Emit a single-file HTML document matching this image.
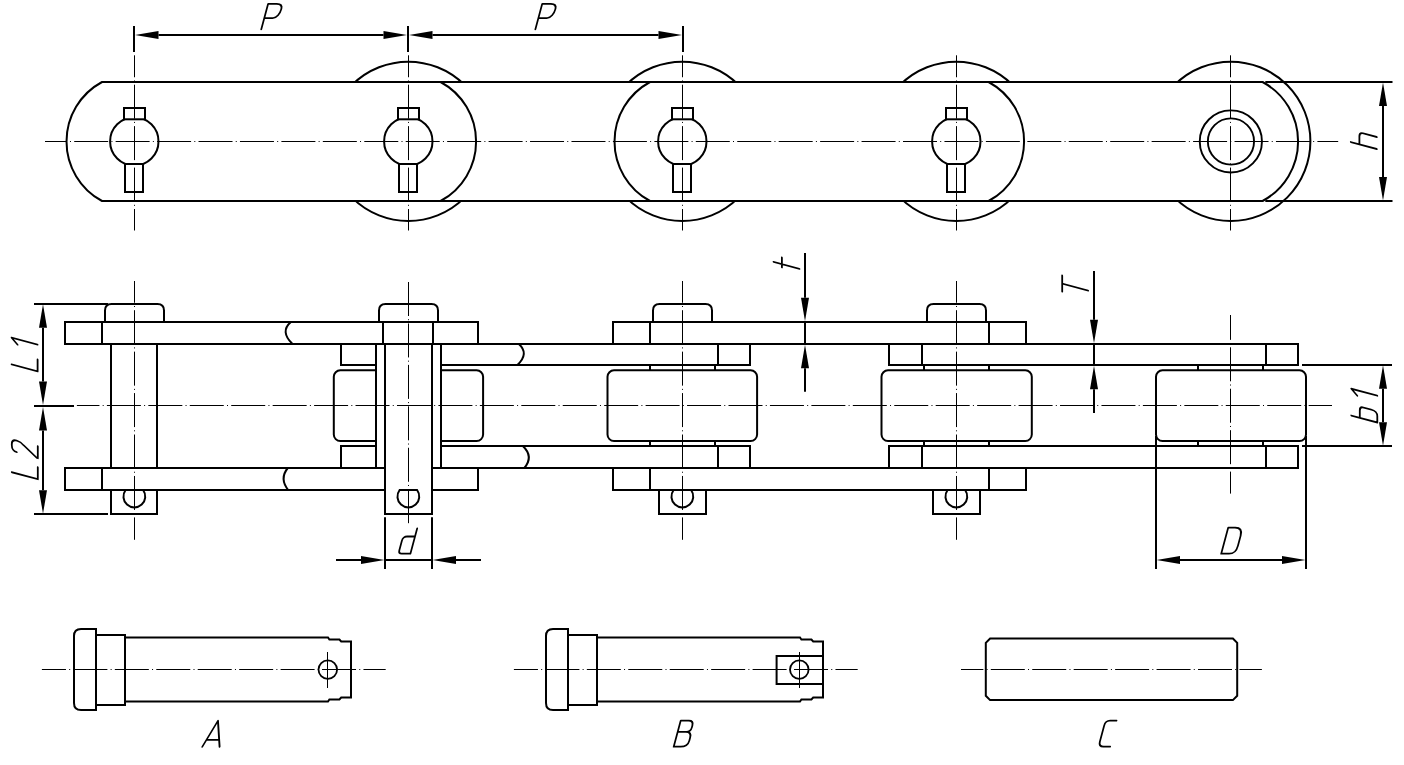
<!DOCTYPE html>
<html><head><meta charset="utf-8"><title>Chain drawing</title>
<style>
html,body{margin:0;padding:0;background:#fff;}
body{width:1404px;height:765px;overflow:hidden;font-family:"Liberation Sans",sans-serif;}
svg{display:block;}
</style></head>
<body>
<svg width="1404" height="765" viewBox="0 0 1404 765" role="img" aria-label="Roller chain drawing with dimensions P, h, t, T, L1, L2, b1, d, D and pin types A, B, C" stroke="#000" stroke-linecap="butt" stroke-linejoin="miter" fill="none">
<rect x="0" y="0" width="1404" height="765" fill="#fff" stroke="none"/>
<circle cx="408.3" cy="141.3" r="79.6" stroke-width="2.0" fill="#fff"/>
<circle cx="682.3" cy="141.3" r="79.6" stroke-width="2.0" fill="#fff"/>
<circle cx="956.3" cy="141.3" r="79.6" stroke-width="2.0" fill="#fff"/>
<circle cx="1230.8" cy="141.3" r="79.6" stroke-width="2.0" fill="#fff"/>
<path d="M376.03,82 L714.57,82 A67.6,67.6 0 0 1 714.57,201 L376.03,201 A67.6,67.6 0 0 1 376.03,82 Z" stroke-width="2.0" fill="#fff"/>
<path d="M924.03,82 L1262.57,82 A67.6,67.6 0 0 1 1262.57,201 L924.03,201 A67.6,67.6 0 0 1 924.03,82 Z" stroke-width="2.0" fill="#fff"/>
<path d="M102.03,82 L440.57,82 A67.6,67.6 0 0 1 440.57,201 L102.03,201 A67.6,67.6 0 0 1 102.03,82 Z" stroke-width="2.0" fill="#fff"/>
<path d="M650.03,82 L988.57,82 A67.6,67.6 0 0 1 988.57,201 L650.03,201 A67.6,67.6 0 0 1 650.03,82 Z" stroke-width="2.0" fill="#fff"/>
<line x1="1265.3" y1="82" x2="1392.5" y2="82" stroke-width="2.0"/>
<line x1="1265.3" y1="201" x2="1392.5" y2="201" stroke-width="2.0"/>
<circle cx="134.3" cy="141.4" r="24.2" stroke-width="2.0" fill="none"/>
<rect x="124" y="108" width="21" height="11.3" stroke-width="2.0" fill="#fff"/>
<rect x="125" y="164" width="18" height="28" stroke-width="2.0" fill="#fff"/>
<circle cx="408.3" cy="141.4" r="24.2" stroke-width="2.0" fill="none"/>
<rect x="398" y="108" width="21" height="11.3" stroke-width="2.0" fill="#fff"/>
<rect x="399" y="164" width="18" height="28" stroke-width="2.0" fill="#fff"/>
<circle cx="682.3" cy="141.4" r="24.2" stroke-width="2.0" fill="none"/>
<rect x="672" y="108" width="21" height="11.3" stroke-width="2.0" fill="#fff"/>
<rect x="673" y="164" width="18" height="28" stroke-width="2.0" fill="#fff"/>
<circle cx="956.3" cy="141.4" r="24.2" stroke-width="2.0" fill="none"/>
<rect x="946" y="108" width="21" height="11.3" stroke-width="2.0" fill="#fff"/>
<rect x="947" y="164" width="18" height="28" stroke-width="2.0" fill="#fff"/>
<circle cx="1230.85" cy="141.45" r="31.1" stroke-width="1.9" fill="none"/>
<circle cx="1230.95" cy="141.5" r="23.1" stroke-width="1.9" fill="none"/>
<line x1="45" y1="141.5" x2="1338.2" y2="141.5" stroke-width="1.0" stroke-dasharray="34.0 3.22 1.0 3.22" stroke-dashoffset="12.24"/>
<line x1="134.5" y1="55.3" x2="134.5" y2="230.5" stroke-width="1.0" stroke-dasharray="34.0 3.22 1.0 3.22" stroke-dashoffset="12.04"/>
<line x1="408.5" y1="55.3" x2="408.5" y2="230.5" stroke-width="1.0" stroke-dasharray="34.0 3.22 1.0 3.22" stroke-dashoffset="12.04"/>
<line x1="682.5" y1="55.3" x2="682.5" y2="230.5" stroke-width="1.0" stroke-dasharray="34.0 3.22 1.0 3.22" stroke-dashoffset="12.04"/>
<line x1="956.5" y1="55.3" x2="956.5" y2="230.5" stroke-width="1.0" stroke-dasharray="34.0 3.22 1.0 3.22" stroke-dashoffset="12.04"/>
<line x1="1230.5" y1="55.3" x2="1230.5" y2="230.5" stroke-width="1.0" stroke-dasharray="34.0 3.22 1.0 3.22" stroke-dashoffset="12.04"/>
<line x1="134" y1="26" x2="134" y2="52" stroke-width="2.0"/>
<line x1="408" y1="26" x2="408" y2="52" stroke-width="2.0"/>
<line x1="683" y1="26" x2="683" y2="52" stroke-width="2.0"/>
<line x1="158.5" y1="35" x2="383.5" y2="35" stroke-width="2.0"/>
<line x1="432.5" y1="35" x2="658.5" y2="35" stroke-width="2.0"/>
<path d="M135,35 L158.5,31 L158.5,39 Z" fill="#000" stroke="none"/>
<path d="M407,35 L383.5,39 L383.5,31 Z" fill="#000" stroke="none"/>
<path d="M409,35 L432.5,31 L432.5,39 Z" fill="#000" stroke="none"/>
<path d="M682,35 L658.5,39 L658.5,31 Z" fill="#000" stroke="none"/>
<g aria-label="P">
<path d="M0,0 V-25.5 H8.5 C12.5,-25.5 14.6,-23.5 14.6,-20.3 C14.6,-15.8 12.3,-11.2 8.5,-11.2 H0.3" transform="translate(261.3,29.3) skewX(-15)" stroke-width="1.8" fill="none" stroke-linecap="round" stroke-linejoin="round"/>
</g>
<g aria-label="P">
<path d="M0,0 V-25.5 H8.5 C12.5,-25.5 14.6,-23.5 14.6,-20.3 C14.6,-15.8 12.3,-11.2 8.5,-11.2 H0.3" transform="translate(535.4,29.3) skewX(-15)" stroke-width="1.8" fill="none" stroke-linecap="round" stroke-linejoin="round"/>
</g>
<line x1="1383" y1="106" x2="1383" y2="177" stroke-width="2.0"/>
<path d="M1383,82.5 L1387,106 L1379,106 Z" fill="#000" stroke="none"/>
<path d="M1383,200.5 L1379,177 L1387,177 Z" fill="#000" stroke="none"/>
<g aria-label="h">
<path d="M0,0 V-26 M0.5,-17.4 H8 Q12,-17.4 12,-13.5 V0" transform="translate(1376.8,149) rotate(-90) skewX(-15)" stroke-width="1.8" fill="none" stroke-linecap="round" stroke-linejoin="round"/>
</g>
<rect x="333.8" y="370.3" width="149.3" height="70.7" rx="6.5" ry="6.5" stroke-width="2.0" fill="#fff"/>
<rect x="607.5" y="370.3" width="149.6" height="70.7" rx="6.5" ry="6.5" stroke-width="2.0" fill="#fff"/>
<rect x="881.5" y="370.3" width="150.3" height="70.7" rx="6.5" ry="6.5" stroke-width="2.0" fill="#fff"/>
<rect x="1156" y="370.3" width="150" height="70.7" rx="6.5" ry="6.5" stroke-width="2.0" fill="#fff"/>
<line x1="650" y1="365" x2="650" y2="370.3" stroke-width="2.0"/>
<line x1="650" y1="441" x2="650" y2="446" stroke-width="2.0"/>
<line x1="715" y1="365" x2="715" y2="370.3" stroke-width="2.0"/>
<line x1="715" y1="441" x2="715" y2="446" stroke-width="2.0"/>
<line x1="924" y1="365" x2="924" y2="370.3" stroke-width="2.0"/>
<line x1="924" y1="441" x2="924" y2="446" stroke-width="2.0"/>
<line x1="989" y1="365" x2="989" y2="370.3" stroke-width="2.0"/>
<line x1="989" y1="441" x2="989" y2="446" stroke-width="2.0"/>
<line x1="1198" y1="365" x2="1198" y2="370.3" stroke-width="2.0"/>
<line x1="1198" y1="441" x2="1198" y2="446" stroke-width="2.0"/>
<line x1="1263" y1="365" x2="1263" y2="370.3" stroke-width="2.0"/>
<line x1="1263" y1="441" x2="1263" y2="446" stroke-width="2.0"/>
<rect x="341" y="344" width="409" height="21" stroke-width="2.0" fill="#fff"/>
<line x1="718" y1="344" x2="718" y2="365" stroke-width="2.0"/>
<rect x="889" y="344" width="409" height="21" stroke-width="2.0" fill="#fff"/>
<line x1="922" y1="344" x2="922" y2="365" stroke-width="2.0"/>
<line x1="1266" y1="344" x2="1266" y2="365" stroke-width="2.0"/>
<rect x="341" y="446" width="409" height="22" stroke-width="2.0" fill="#fff"/>
<line x1="718" y1="446" x2="718" y2="468" stroke-width="2.0"/>
<rect x="889" y="446" width="409" height="22" stroke-width="2.0" fill="#fff"/>
<line x1="922" y1="446" x2="922" y2="468" stroke-width="2.0"/>
<line x1="1266" y1="446" x2="1266" y2="468" stroke-width="2.0"/>
<rect x="65" y="322" width="413" height="22" stroke-width="2.0" fill="#fff"/>
<line x1="102" y1="322" x2="102" y2="344" stroke-width="2.0"/>
<rect x="613" y="322" width="413" height="22" stroke-width="2.0" fill="#fff"/>
<line x1="650" y1="322" x2="650" y2="344" stroke-width="2.0"/>
<line x1="989" y1="322" x2="989" y2="344" stroke-width="2.0"/>
<rect x="65" y="468" width="413" height="22" stroke-width="2.0" fill="#fff"/>
<line x1="102" y1="468" x2="102" y2="490" stroke-width="2.0"/>
<rect x="613" y="468" width="413" height="22" stroke-width="2.0" fill="#fff"/>
<line x1="650" y1="468" x2="650" y2="490" stroke-width="2.0"/>
<line x1="989" y1="468" x2="989" y2="490" stroke-width="2.0"/>
<path d="M290.9,322 Q279.6,331.5 292.5,344" stroke-width="2.0" fill="none"/>
<path d="M287.8,468 Q279.2,478.6 288.2,490" stroke-width="2.0" fill="none"/>
<path d="M518.8,344 Q529.5,353.5 517.4,365" stroke-width="2.0" fill="none"/>
<path d="M522.8,446 Q534,456.5 524.3,468" stroke-width="2.0" fill="none"/>
<path d="M105,322 V310.5 Q105,304 111.5,304 H157.5 Q164,304 164,310.5 V322" stroke-width="2.0" fill="none"/>
<path d="M379,322 V310.5 Q379,304 385.5,304 H431.5 Q438,304 438,310.5 V322" stroke-width="2.0" fill="none"/>
<path d="M653,322 V310.5 Q653,304 659.5,304 H705.5 Q712,304 712,310.5 V322" stroke-width="2.0" fill="none"/>
<path d="M927,322 V310.5 Q927,304 933.5,304 H979.5 Q986,304 986,310.5 V322" stroke-width="2.0" fill="none"/>
<rect x="111" y="344" width="46" height="124" stroke-width="2.0" fill="#fff"/>
<rect x="376" y="344" width="65" height="124" stroke-width="2.0" fill="#fff"/>
<rect x="385" y="344" width="47" height="170" stroke-width="2.0" fill="#fff"/>
<rect x="383" y="322" width="50" height="22" stroke-width="2.0" fill="#fff"/>
<path d="M111,490 V514 H157 V490" stroke-width="2.0" fill="none"/>
<path d="M125.6,490 A10.9,10.9 0 1 0 143.1,490" stroke-width="2.0" fill="none"/>
<path d="M385,490 V514 H432 V490" stroke-width="2.0" fill="none"/>
<path d="M399.6,490 A10.9,10.9 0 1 0 417.1,490 Z" stroke-width="2.0" fill="none"/>
<path d="M659,490 V514 H706 V490" stroke-width="2.0" fill="none"/>
<path d="M673.6,490 A10.9,10.9 0 1 0 691.1,490" stroke-width="2.0" fill="none"/>
<path d="M933,490 V514 H980 V490" stroke-width="2.0" fill="none"/>
<path d="M947.6,490 A10.9,10.9 0 1 0 965.1,490" stroke-width="2.0" fill="none"/>
<line x1="34" y1="406" x2="74" y2="406" stroke-width="2.0"/>
<line x1="76.9" y1="405.5" x2="1332" y2="405.5" stroke-width="1.0" stroke-dasharray="34.0 3.22 1.0 3.22" stroke-dashoffset="11.44"/>
<line x1="134.5" y1="281" x2="134.5" y2="539.8" stroke-width="1.0" stroke-dasharray="34.0 3.22 1.0 3.22" stroke-dashoffset="12.24"/>
<line x1="408.5" y1="281" x2="408.5" y2="524.6" stroke-width="1.0" stroke-dasharray="34.0 3.22 1.0 3.22" stroke-dashoffset="40.44"/>
<line x1="682.5" y1="281" x2="682.5" y2="539.8" stroke-width="1.0" stroke-dasharray="34.0 3.22 1.0 3.22" stroke-dashoffset="12.24"/>
<line x1="956.5" y1="281" x2="956.5" y2="539.8" stroke-width="1.0" stroke-dasharray="34.0 3.22 1.0 3.22" stroke-dashoffset="12.24"/>
<line x1="1230.5" y1="315" x2="1230.5" y2="493.6" stroke-width="1.0" stroke-dasharray="34.0 3.22 1.0 3.22" stroke-dashoffset="9.14"/>
<line x1="34" y1="304" x2="108" y2="304" stroke-width="2.0"/>
<line x1="34" y1="514" x2="108" y2="514" stroke-width="2.0"/>
<line x1="43" y1="327.8" x2="43" y2="381.5" stroke-width="2.0"/>
<line x1="43" y1="430.5" x2="43" y2="490.2" stroke-width="2.0"/>
<path d="M43,304.3 L47,327.8 L39,327.8 Z" fill="#000" stroke="none"/>
<path d="M43,405 L39,381.5 L47,381.5 Z" fill="#000" stroke="none"/>
<path d="M43,407 L47,430.5 L39,430.5 Z" fill="#000" stroke="none"/>
<path d="M43,513.7 L39,490.2 L47,490.2 Z" fill="#000" stroke="none"/>
<g aria-label="L1">
<path d="M0,-26 V0 H12" transform="translate(37.6,371.4) rotate(-90) skewX(-15)" stroke-width="1.8" fill="none" stroke-linecap="round" stroke-linejoin="round"/>
<path d="M-5.4,-20 L0,-26 V0" transform="translate(37.6,344.6) rotate(-90) skewX(-15)" stroke-width="1.8" fill="none" stroke-linecap="round" stroke-linejoin="round"/>
</g>
<g aria-label="L2">
<path d="M0,-26 V0 H12" transform="translate(37.8,479.2) rotate(-90) skewX(-15)" stroke-width="1.8" fill="none" stroke-linecap="round" stroke-linejoin="round"/>
<path d="M0.5,-21 Q0.5,-26 6,-26 H7 Q12,-26 12,-21 Q12,-17 9,-14 L0,-1 V0 H12" transform="translate(37.8,458.2) rotate(-90) skewX(-15)" stroke-width="1.8" fill="none" stroke-linecap="round" stroke-linejoin="round"/>
</g>
<line x1="805" y1="253.1" x2="805" y2="297.8" stroke-width="2.0"/>
<line x1="805" y1="322" x2="805" y2="344" stroke-width="2.0"/>
<line x1="805" y1="368.2" x2="805" y2="391.7" stroke-width="2.0"/>
<path d="M805,321.3 L801,297.8 L809,297.8 Z" fill="#000" stroke="none"/>
<path d="M805,344.7 L809,368.2 L801,368.2 Z" fill="#000" stroke="none"/>
<g aria-label="t">
<path d="M0,0 V-26 M-3.3,-17.6 H6.7" transform="translate(799.5,268.8) rotate(-90) skewX(-15)" stroke-width="1.8" fill="none" stroke-linecap="round" stroke-linejoin="round"/>
</g>
<line x1="1094" y1="271" x2="1094" y2="319.8" stroke-width="2.0"/>
<line x1="1094" y1="344" x2="1094" y2="365" stroke-width="2.0"/>
<line x1="1094" y1="389.2" x2="1094" y2="413" stroke-width="2.0"/>
<path d="M1094,343.3 L1090,319.8 L1098,319.8 Z" fill="#000" stroke="none"/>
<path d="M1094,365.7 L1098,389.2 L1090,389.2 Z" fill="#000" stroke="none"/>
<g aria-label="T">
<path d="M0,0 V-26 M-8,-26 H8.2" transform="translate(1088.2,290.6) rotate(-90) skewX(-15)" stroke-width="1.8" fill="none" stroke-linecap="round" stroke-linejoin="round"/>
</g>
<line x1="1302" y1="365" x2="1392" y2="365" stroke-width="2.0"/>
<line x1="1302" y1="446" x2="1392" y2="446" stroke-width="2.0"/>
<line x1="1383" y1="388.8" x2="1383" y2="422.2" stroke-width="2.0"/>
<path d="M1383,365.3 L1387,388.8 L1379,388.8 Z" fill="#000" stroke="none"/>
<path d="M1383,445.7 L1379,422.2 L1387,422.2 Z" fill="#000" stroke="none"/>
<g aria-label="b1">
<path d="M0,0 V-26 M0.5,-17.5 H7.5 Q11.3,-17.5 11.3,-13.7 V-6 Q11.3,0 6.5,0 H0" transform="translate(1377.3,422.5) rotate(-90) skewX(-15)" stroke-width="1.8" fill="none" stroke-linecap="round" stroke-linejoin="round"/>
<path d="M-5.4,-20 L0,-26 V0" transform="translate(1377.3,395.7) rotate(-90) skewX(-15)" stroke-width="1.8" fill="none" stroke-linecap="round" stroke-linejoin="round"/>
</g>
<line x1="1156" y1="436" x2="1156" y2="569" stroke-width="2.0"/>
<line x1="1306" y1="436" x2="1306" y2="569" stroke-width="2.0"/>
<line x1="1180" y1="560" x2="1282" y2="560" stroke-width="2.0"/>
<path d="M1156.5,560 L1180,556 L1180,564 Z" fill="#000" stroke="none"/>
<path d="M1305.5,560 L1282,564 L1282,556 Z" fill="#000" stroke="none"/>
<g aria-label="D">
<path d="M0,0 V-26 H7 Q14.6,-26 14.6,-18 V-8 Q14.6,0 8,0 Z" transform="translate(1221.2,553.7) skewX(-15)" stroke-width="1.8" fill="none" stroke-linecap="round" stroke-linejoin="round"/>
</g>
<line x1="385" y1="517.3" x2="385" y2="569" stroke-width="2.0"/>
<line x1="432" y1="517.3" x2="432" y2="569" stroke-width="2.0"/>
<line x1="336" y1="560" x2="361" y2="560" stroke-width="2.0"/>
<line x1="385" y1="560" x2="432" y2="560" stroke-width="2.0"/>
<line x1="456" y1="560" x2="481" y2="560" stroke-width="2.0"/>
<path d="M384.5,560 L361,564 L361,556 Z" fill="#000" stroke="none"/>
<path d="M432.5,560 L456,556 L456,564 Z" fill="#000" stroke="none"/>
<g aria-label="d">
<path d="M12,0 V-25.2 M12,-17.2 H4 Q0,-17.2 0,-13 V-3.5 Q0,0 3.5,0 H12" transform="translate(398.4,553.7) skewX(-15)" stroke-width="1.8" fill="none" stroke-linecap="round" stroke-linejoin="round"/>
</g>
<path d="M96,629 H81 Q74,629 74,636 V703 Q74,710 81,710 H96 Z" stroke-width="2.0" fill="#fff"/>
<rect x="96" y="635" width="29" height="70" stroke-width="2.0" fill="#fff"/>
<path d="M125,637.5 H328 L329.4,639.5 H339.4 L341.2,641.5 H351 V697.5 H341.2 L339.4,699.5 H329.4 L328,701.5 H125 Z" stroke-width="2.0" fill="#fff"/>
<circle cx="327.8" cy="669.6" r="9.3" stroke-width="1.8" fill="none"/>
<line x1="327.5" y1="652" x2="327.5" y2="688" stroke-width="1.0"/>
<path d="M568,629 H553 Q546,629 546,636 V703 Q546,710 553,710 H568 Z" stroke-width="2.0" fill="#fff"/>
<rect x="568" y="635" width="29" height="70" stroke-width="2.0" fill="#fff"/>
<path d="M597,637.5 H800 L801.4,639.5 H811.4 L813.2,641.5 H823 V697.5 H813.2 L811.4,699.5 H801.4 L800,701.5 H597 Z" stroke-width="2.0" fill="#fff"/>
<path d="M822,656 H776.6 V684 H822" stroke-width="2.0" fill="none"/>
<circle cx="799.3" cy="669.6" r="9.3" stroke-width="1.8" fill="none"/>
<line x1="799.5" y1="652" x2="799.5" y2="688" stroke-width="1.0"/>
<line x1="41.9" y1="669.5" x2="385.7" y2="669.5" stroke-width="1.0" stroke-dasharray="34.0 3.22 1.0 3.22" stroke-dashoffset="9.94"/>
<line x1="513.9" y1="669.5" x2="857.7" y2="669.5" stroke-width="1.0" stroke-dasharray="34.0 3.22 1.0 3.22" stroke-dashoffset="9.94"/>
<path d="M990.1,638.6 H1232.9 L1237.2,642.9 V695.8 L1232.9,700.1 H990.1 L985.8,695.8 V642.9 Z" stroke-width="2.0" fill="#fff"/>
<line x1="961" y1="669.5" x2="1261.9" y2="669.5" stroke-width="1.0" stroke-dasharray="34.0 3.22 1.0 3.22" stroke-dashoffset="11.64"/>
<g aria-label="A">
<path d="M0,0 L8.7,-26 L17.3,0 M2.6,-6.9 H15" transform="translate(202.3,746.8) skewX(-15)" stroke-width="1.8" fill="none" stroke-linecap="round" stroke-linejoin="round"/>
</g>
<g aria-label="B">
<path d="M0,0 V-26 H8 Q13,-26 13,-21 V-19.5 Q13,-14.8 8.5,-14.8 H0 M8.5,-14.8 Q14,-14.8 14,-9 V-6 Q14,0 7,0 H0" transform="translate(673.7,746.7) skewX(-15)" stroke-width="1.8" fill="none" stroke-linecap="round" stroke-linejoin="round"/>
</g>
<g aria-label="C">
<path d="M11,-26 H4.5 Q0,-26 0,-21 V-5 Q0,0 5,0 H11.6" transform="translate(1098.5,746.7) skewX(-15)" stroke-width="1.8" fill="none" stroke-linecap="round" stroke-linejoin="round"/>
</g>
</svg>
</body></html>
